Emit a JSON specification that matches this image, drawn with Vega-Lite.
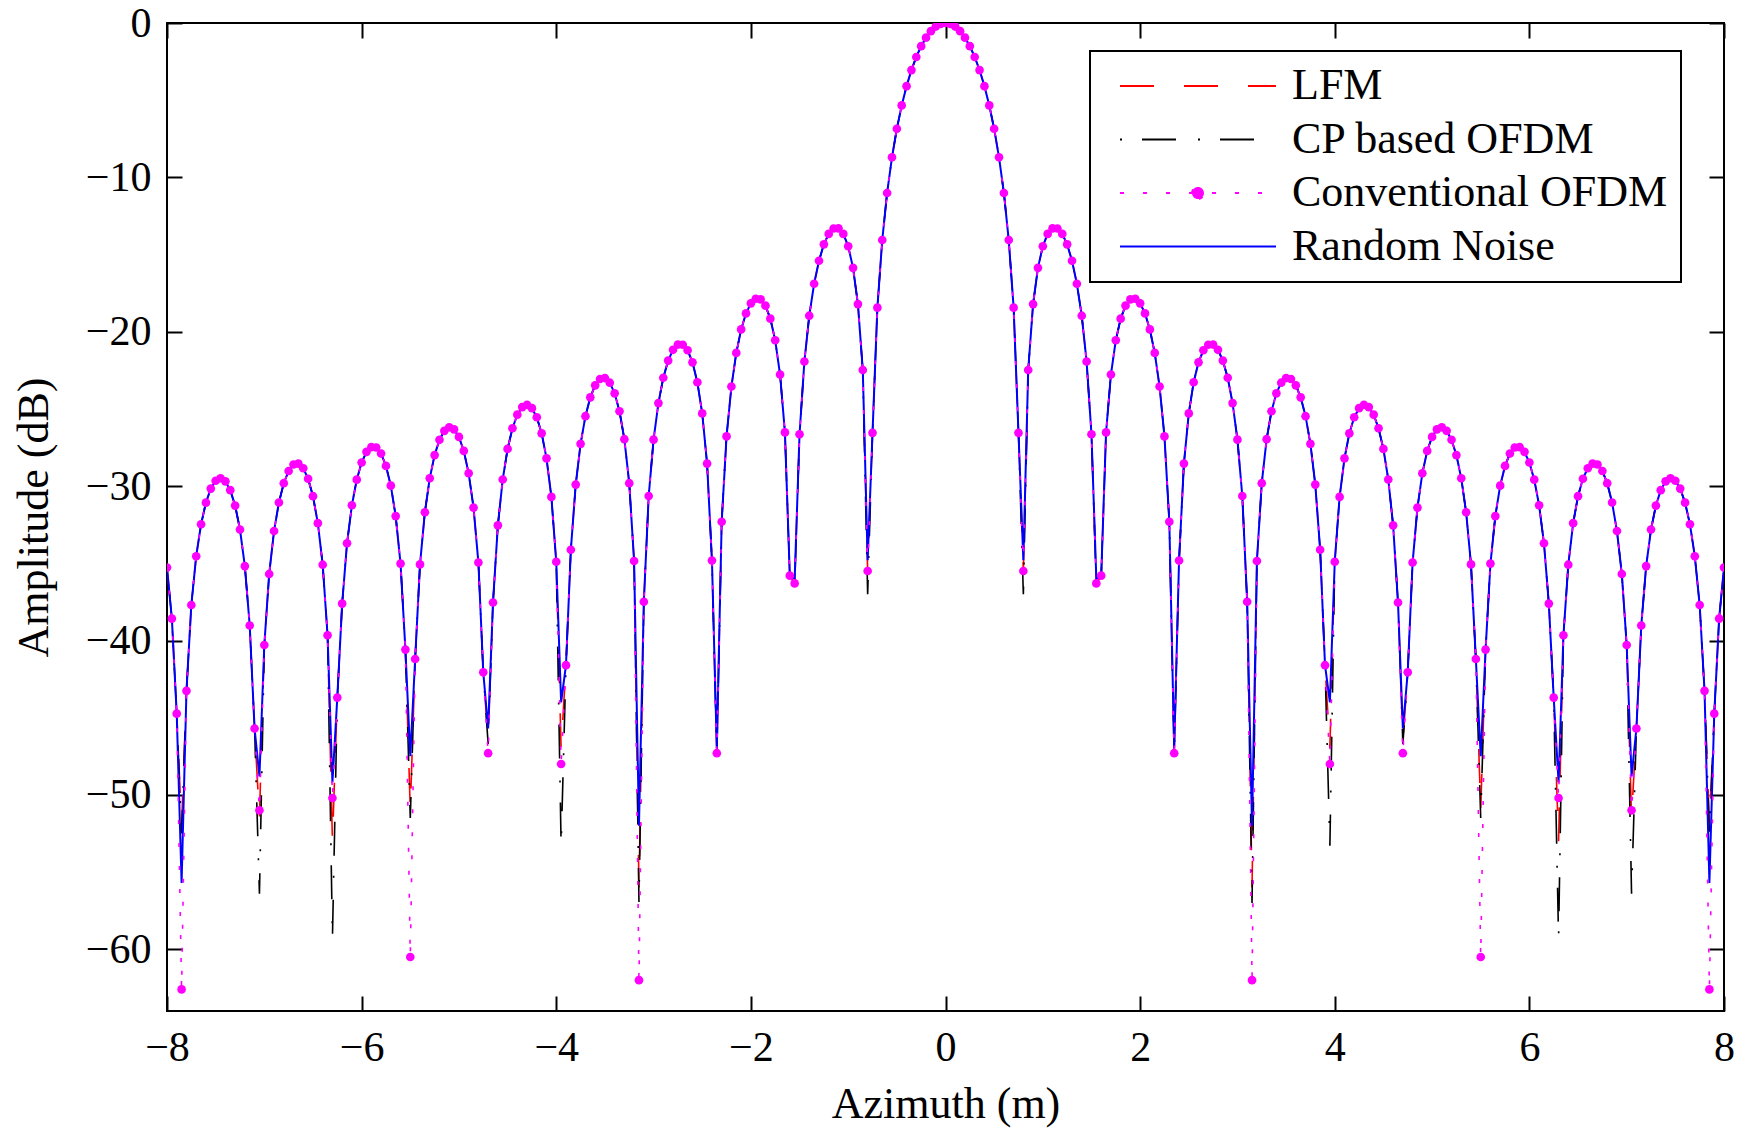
{
"$schema":"https://vega.github.io/schema/vega-lite/v6.json",
"width":1557,"height":988,
"autosize":{"type":"none"},
"padding":{"left":167,"top":23,"right":24,"bottom":119},
"background":"white",
"config":{
"view":{"stroke":"black","strokeWidth":2},
"font":"Liberation Serif",
"axis":{"grid":false,"domain":false,"tickColor":"black","tickWidth":2,"tickSize":-15,"labelFlush":false,"labelFont":"Liberation Serif","labelFontSize":42,"labelColor":"black","titleFont":"Liberation Serif","titleFontSize":44,"titleFontWeight":"normal","titleColor":"black"}
},
"data":{"values":[
{"x":-8,"l":-35.27,"c":-35.27,"v":-35.27,"n":-35.27},
{"x":-7.95,"l":-38.58,"c":-38.58,"v":-38.58,"n":-38.58},
{"x":-7.9,"l":-44.74,"c":-44.74,"v":-44.74,"n":-44.74},
{"x":-7.85,"l":-52,"c":-52.5,"v":-62.6,"n":-55.7},
{"x":-7.8,"l":-43.26,"c":-43.26,"v":-43.26,"n":-43.26},
{"x":-7.75,"l":-37.7,"c":-37.7,"v":-37.7,"n":-37.7},
{"x":-7.7,"l":-34.54,"c":-34.54,"v":-34.54,"n":-34.54},
{"x":-7.65,"l":-32.47,"c":-32.47,"v":-32.47,"n":-32.47},
{"x":-7.6,"l":-31.07,"c":-31.07,"v":-31.07,"n":-31.07},
{"x":-7.55,"l":-30.16,"c":-30.16,"v":-30.16,"n":-30.16},
{"x":-7.5,"l":-29.65,"c":-29.65,"v":-29.65,"n":-29.65},
{"x":-7.45,"l":-29.49,"c":-29.49,"v":-29.49,"n":-29.49},
{"x":-7.4,"l":-29.69,"c":-29.69,"v":-29.69,"n":-29.69},
{"x":-7.35,"l":-30.26,"c":-30.26,"v":-30.26,"n":-30.26},
{"x":-7.3,"l":-31.26,"c":-31.26,"v":-31.26,"n":-31.26},
{"x":-7.25,"l":-32.81,"c":-32.81,"v":-32.81,"n":-32.81},
{"x":-7.2,"l":-35.18,"c":-35.18,"v":-35.18,"n":-35.18},
{"x":-7.15,"l":-39.03,"c":-39.03,"v":-39.03,"n":-39.03},
{"x":-7.1,"l":-45.7,"c":-45.7,"v":-45.7,"n":-45.7},
{"x":-7.05,"l":-51.5,"c":-56.4,"v":-51,"n":-48.8},
{"x":-7,"l":-40.29,"c":-40.29,"v":-40.29,"n":-40.29},
{"x":-6.95,"l":-35.69,"c":-35.69,"v":-35.69,"n":-35.69},
{"x":-6.9,"l":-32.91,"c":-32.91,"v":-32.91,"n":-32.91},
{"x":-6.85,"l":-31.06,"c":-31.06,"v":-31.06,"n":-31.06},
{"x":-6.8,"l":-29.81,"c":-29.81,"v":-29.81,"n":-29.81},
{"x":-6.75,"l":-29.02,"c":-29.02,"v":-29.02,"n":-29.02},
{"x":-6.7,"l":-28.6,"c":-28.6,"v":-28.6,"n":-28.6},
{"x":-6.65,"l":-28.54,"c":-28.54,"v":-28.54,"n":-28.54},
{"x":-6.6,"l":-28.84,"c":-28.84,"v":-28.84,"n":-28.84},
{"x":-6.55,"l":-29.52,"c":-29.52,"v":-29.52,"n":-29.52},
{"x":-6.5,"l":-30.65,"c":-30.65,"v":-30.65,"n":-30.65},
{"x":-6.45,"l":-32.4,"c":-32.4,"v":-32.4,"n":-32.4},
{"x":-6.4,"l":-35.09,"c":-35.09,"v":-35.09,"n":-35.09},
{"x":-6.35,"l":-39.66,"c":-39.66,"v":-39.66,"n":-39.66},
{"x":-6.3,"l":-53,"c":-59.3,"v":-50.2,"n":-49.2},
{"x":-6.25,"l":-43.7,"c":-43.7,"v":-43.7,"n":-43.7},
{"x":-6.2,"l":-37.61,"c":-37.61,"v":-37.61,"n":-37.61},
{"x":-6.15,"l":-33.7,"c":-33.7,"v":-33.7,"n":-33.7},
{"x":-6.1,"l":-31.24,"c":-31.24,"v":-31.24,"n":-31.24},
{"x":-6.05,"l":-29.58,"c":-29.58,"v":-29.58,"n":-29.58},
{"x":-6,"l":-28.47,"c":-28.47,"v":-28.47,"n":-28.47},
{"x":-5.95,"l":-27.78,"c":-27.78,"v":-27.78,"n":-27.78},
{"x":-5.9,"l":-27.47,"c":-27.47,"v":-27.47,"n":-27.47},
{"x":-5.85,"l":-27.5,"c":-27.5,"v":-27.5,"n":-27.5},
{"x":-5.8,"l":-27.89,"c":-27.89,"v":-27.89,"n":-27.89},
{"x":-5.75,"l":-28.69,"c":-28.69,"v":-28.69,"n":-28.69},
{"x":-5.7,"l":-29.97,"c":-29.97,"v":-29.97,"n":-29.97},
{"x":-5.65,"l":-31.94,"c":-31.94,"v":-31.94,"n":-31.94},
{"x":-5.6,"l":-35.02,"c":-35.02,"v":-35.02,"n":-35.02},
{"x":-5.55,"l":-40.59,"c":-40.59,"v":-40.59,"n":-40.59},
{"x":-5.5,"l":-51,"c":-51.5,"v":-60.5,"n":-47.5},
{"x":-5.45,"l":-41.2,"c":-41.2,"v":-41.2,"n":-41.2},
{"x":-5.4,"l":-35.07,"c":-35.07,"v":-35.07,"n":-35.07},
{"x":-5.35,"l":-31.69,"c":-31.69,"v":-31.69,"n":-31.69},
{"x":-5.3,"l":-29.49,"c":-29.49,"v":-29.49,"n":-29.49},
{"x":-5.25,"l":-27.99,"c":-27.99,"v":-27.99,"n":-27.99},
{"x":-5.2,"l":-27,"c":-27,"v":-27,"n":-27},
{"x":-5.15,"l":-26.42,"c":-26.42,"v":-26.42,"n":-26.42},
{"x":-5.1,"l":-26.19,"c":-26.19,"v":-26.19,"n":-26.19},
{"x":-5.05,"l":-26.32,"c":-26.32,"v":-26.32,"n":-26.32},
{"x":-5,"l":-26.81,"c":-26.81,"v":-26.81,"n":-26.81},
{"x":-4.95,"l":-27.72,"c":-27.72,"v":-27.72,"n":-27.72},
{"x":-4.9,"l":-29.17,"c":-29.17,"v":-29.17,"n":-29.17},
{"x":-4.85,"l":-31.39,"c":-31.39,"v":-31.39,"n":-31.39},
{"x":-4.8,"l":-34.95,"c":-34.95,"v":-34.95,"n":-34.95},
{"x":-4.75,"l":-42.06,"c":-42.06,"v":-42.06,"n":-42.06},
{"x":-4.7,"l":-46.5,"c":-46.7,"v":-47.3,"n":-45.7},
{"x":-4.65,"l":-37.54,"c":-37.54,"v":-37.54,"n":-37.54},
{"x":-4.6,"l":-32.54,"c":-32.54,"v":-32.54,"n":-32.54},
{"x":-4.55,"l":-29.57,"c":-29.57,"v":-29.57,"n":-29.57},
{"x":-4.5,"l":-27.59,"c":-27.59,"v":-27.59,"n":-27.59},
{"x":-4.45,"l":-26.25,"c":-26.25,"v":-26.25,"n":-26.25},
{"x":-4.4,"l":-25.37,"c":-25.37,"v":-25.37,"n":-25.37},
{"x":-4.35,"l":-24.88,"c":-24.88,"v":-24.88,"n":-24.88},
{"x":-4.3,"l":-24.74,"c":-24.74,"v":-24.74,"n":-24.74},
{"x":-4.25,"l":-24.95,"c":-24.95,"v":-24.95,"n":-24.95},
{"x":-4.2,"l":-25.54,"c":-25.54,"v":-25.54,"n":-25.54},
{"x":-4.15,"l":-26.58,"c":-26.58,"v":-26.58,"n":-26.58},
{"x":-4.1,"l":-28.2,"c":-28.2,"v":-28.2,"n":-28.2},
{"x":-4.05,"l":-30.7,"c":-30.7,"v":-30.7,"n":-30.7},
{"x":-4,"l":-34.9,"c":-34.9,"v":-34.9,"n":-34.9},
{"x":-3.95,"l":-47,"c":-53.3,"v":-48,"n":-44},
{"x":-3.9,"l":-41.6,"c":-41.6,"v":-41.6,"n":-41.6},
{"x":-3.85,"l":-34.12,"c":-34.12,"v":-34.12,"n":-34.12},
{"x":-3.8,"l":-29.9,"c":-29.9,"v":-29.9,"n":-29.9},
{"x":-3.75,"l":-27.26,"c":-27.26,"v":-27.26,"n":-27.26},
{"x":-3.7,"l":-25.47,"c":-25.47,"v":-25.47,"n":-25.47},
{"x":-3.65,"l":-24.25,"c":-24.25,"v":-24.25,"n":-24.25},
{"x":-3.6,"l":-23.47,"c":-23.47,"v":-23.47,"n":-23.47},
{"x":-3.55,"l":-23.06,"c":-23.06,"v":-23.06,"n":-23.06},
{"x":-3.5,"l":-23,"c":-23,"v":-23,"n":-23},
{"x":-3.45,"l":-23.3,"c":-23.3,"v":-23.3,"n":-23.3},
{"x":-3.4,"l":-23.99,"c":-23.99,"v":-23.99,"n":-23.99},
{"x":-3.35,"l":-25.15,"c":-25.15,"v":-25.15,"n":-25.15},
{"x":-3.3,"l":-26.96,"c":-26.96,"v":-26.96,"n":-26.96},
{"x":-3.25,"l":-29.81,"c":-29.81,"v":-29.81,"n":-29.81},
{"x":-3.2,"l":-34.85,"c":-34.85,"v":-34.85,"n":-34.85},
{"x":-3.15,"l":-56,"c":-57,"v":-62,"n":-52},
{"x":-3.1,"l":-37.49,"c":-37.49,"v":-37.49,"n":-37.49},
{"x":-3.05,"l":-30.64,"c":-30.64,"v":-30.64,"n":-30.64},
{"x":-3,"l":-26.99,"c":-26.99,"v":-26.99,"n":-26.99},
{"x":-2.95,"l":-24.62,"c":-24.62,"v":-24.62,"n":-24.62},
{"x":-2.9,"l":-22.98,"c":-22.98,"v":-22.98,"n":-22.98},
{"x":-2.85,"l":-21.87,"c":-21.87,"v":-21.87,"n":-21.87},
{"x":-2.8,"l":-21.17,"c":-21.17,"v":-21.17,"n":-21.17},
{"x":-2.75,"l":-20.83,"c":-20.83,"v":-20.83,"n":-20.83},
{"x":-2.7,"l":-20.84,"c":-20.84,"v":-20.84,"n":-20.84},
{"x":-2.65,"l":-21.2,"c":-21.2,"v":-21.2,"n":-21.2},
{"x":-2.6,"l":-21.98,"c":-21.98,"v":-21.98,"n":-21.98},
{"x":-2.55,"l":-23.27,"c":-23.27,"v":-23.27,"n":-23.27},
{"x":-2.5,"l":-25.29,"c":-25.29,"v":-25.29,"n":-25.29},
{"x":-2.45,"l":-28.54,"c":-28.54,"v":-28.54,"n":-28.54},
{"x":-2.4,"l":-34.82,"c":-34.82,"v":-34.82,"n":-34.82},
{"x":-2.35,"l":-47.3,"c":-47.5,"v":-47.3,"n":-47},
{"x":-2.3,"l":-32.31,"c":-32.31,"v":-32.31,"n":-32.31},
{"x":-2.25,"l":-26.78,"c":-26.78,"v":-26.78,"n":-26.78},
{"x":-2.2,"l":-23.55,"c":-23.55,"v":-23.55,"n":-23.55},
{"x":-2.15,"l":-21.37,"c":-21.37,"v":-21.37,"n":-21.37},
{"x":-2.1,"l":-19.85,"c":-19.85,"v":-19.85,"n":-19.85},
{"x":-2.05,"l":-18.81,"c":-18.81,"v":-18.81,"n":-18.81},
{"x":-2,"l":-18.16,"c":-18.16,"v":-18.16,"n":-18.16},
{"x":-1.95,"l":-17.86,"c":-17.86,"v":-17.86,"n":-17.86},
{"x":-1.9,"l":-17.9,"c":-17.9,"v":-17.9,"n":-17.9},
{"x":-1.85,"l":-18.31,"c":-18.31,"v":-18.31,"n":-18.31},
{"x":-1.8,"l":-19.15,"c":-19.15,"v":-19.15,"n":-19.15},
{"x":-1.75,"l":-20.55,"c":-20.55,"v":-20.55,"n":-20.55},
{"x":-1.7,"l":-22.77,"c":-22.77,"v":-22.77,"n":-22.77},
{"x":-1.65,"l":-26.52,"c":-26.52,"v":-26.52,"n":-26.52},
{"x":-1.6,"l":-35.8,"c":-35.8,"v":-35.8,"n":-35.8},
{"x":-1.55,"l":-36.3,"c":-36.5,"v":-36.3,"n":-36},
{"x":-1.5,"l":-26.64,"c":-26.64,"v":-26.64,"n":-26.64},
{"x":-1.45,"l":-21.93,"c":-21.93,"v":-21.93,"n":-21.93},
{"x":-1.4,"l":-18.96,"c":-18.96,"v":-18.96,"n":-18.96},
{"x":-1.35,"l":-16.89,"c":-16.89,"v":-16.89,"n":-16.89},
{"x":-1.3,"l":-15.4,"c":-15.4,"v":-15.4,"n":-15.4},
{"x":-1.25,"l":-14.34,"c":-14.34,"v":-14.34,"n":-14.34},
{"x":-1.2,"l":-13.66,"c":-13.66,"v":-13.66,"n":-13.66},
{"x":-1.15,"l":-13.31,"c":-13.31,"v":-13.31,"n":-13.31},
{"x":-1.1,"l":-13.3,"c":-13.3,"v":-13.3,"n":-13.3},
{"x":-1.05,"l":-13.66,"c":-13.66,"v":-13.66,"n":-13.66},
{"x":-1,"l":-14.46,"c":-14.46,"v":-14.46,"n":-14.46},
{"x":-0.95,"l":-15.86,"c":-15.86,"v":-15.86,"n":-15.86},
{"x":-0.9,"l":-18.21,"c":-18.21,"v":-18.21,"n":-18.21},
{"x":-0.85,"l":-22.48,"c":-22.48,"v":-22.48,"n":-22.48},
{"x":-0.8,"l":-35.5,"c":-37,"v":-35.5,"n":-34.8},
{"x":-0.75,"l":-26.55,"c":-26.55,"v":-26.55,"n":-26.55},
{"x":-0.7,"l":-18.44,"c":-18.44,"v":-18.44,"n":-18.44},
{"x":-0.65,"l":-14.06,"c":-14.06,"v":-14.06,"n":-14.06},
{"x":-0.6,"l":-11.01,"c":-11.01,"v":-11.01,"n":-11.01},
{"x":-0.55,"l":-8.7,"c":-8.7,"v":-8.7,"n":-8.7},
{"x":-0.5,"l":-6.85,"c":-6.85,"v":-6.85,"n":-6.85},
{"x":-0.45,"l":-5.34,"c":-5.34,"v":-5.34,"n":-5.34},
{"x":-0.4,"l":-4.09,"c":-4.09,"v":-4.09,"n":-4.09},
{"x":-0.35,"l":-3.05,"c":-3.05,"v":-3.05,"n":-3.05},
{"x":-0.3,"l":-2.2,"c":-2.2,"v":-2.2,"n":-2.2},
{"x":-0.25,"l":-1.5,"c":-1.5,"v":-1.5,"n":-1.5},
{"x":-0.2,"l":-0.95,"c":-0.95,"v":-0.95,"n":-0.95},
{"x":-0.15,"l":-0.53,"c":-0.53,"v":-0.53,"n":-0.53},
{"x":-0.1,"l":-0.23,"c":-0.23,"v":-0.23,"n":-0.23},
{"x":-0.05,"l":-0.06,"c":-0.06,"v":-0.06,"n":-0.06},
{"x":0,"l":0,"c":0,"v":0,"n":0},
{"x":0.05,"l":-0.06,"c":-0.06,"v":-0.06,"n":-0.06},
{"x":0.1,"l":-0.23,"c":-0.23,"v":-0.23,"n":-0.23},
{"x":0.15,"l":-0.53,"c":-0.53,"v":-0.53,"n":-0.53},
{"x":0.2,"l":-0.95,"c":-0.95,"v":-0.95,"n":-0.95},
{"x":0.25,"l":-1.5,"c":-1.5,"v":-1.5,"n":-1.5},
{"x":0.3,"l":-2.2,"c":-2.2,"v":-2.2,"n":-2.2},
{"x":0.35,"l":-3.05,"c":-3.05,"v":-3.05,"n":-3.05},
{"x":0.4,"l":-4.09,"c":-4.09,"v":-4.09,"n":-4.09},
{"x":0.45,"l":-5.34,"c":-5.34,"v":-5.34,"n":-5.34},
{"x":0.5,"l":-6.85,"c":-6.85,"v":-6.85,"n":-6.85},
{"x":0.55,"l":-8.7,"c":-8.7,"v":-8.7,"n":-8.7},
{"x":0.6,"l":-11.01,"c":-11.01,"v":-11.01,"n":-11.01},
{"x":0.65,"l":-14.06,"c":-14.06,"v":-14.06,"n":-14.06},
{"x":0.7,"l":-18.44,"c":-18.44,"v":-18.44,"n":-18.44},
{"x":0.75,"l":-26.55,"c":-26.55,"v":-26.55,"n":-26.55},
{"x":0.8,"l":-35.5,"c":-37,"v":-35.5,"n":-34.8},
{"x":0.85,"l":-22.48,"c":-22.48,"v":-22.48,"n":-22.48},
{"x":0.9,"l":-18.21,"c":-18.21,"v":-18.21,"n":-18.21},
{"x":0.95,"l":-15.86,"c":-15.86,"v":-15.86,"n":-15.86},
{"x":1,"l":-14.46,"c":-14.46,"v":-14.46,"n":-14.46},
{"x":1.05,"l":-13.66,"c":-13.66,"v":-13.66,"n":-13.66},
{"x":1.1,"l":-13.3,"c":-13.3,"v":-13.3,"n":-13.3},
{"x":1.15,"l":-13.31,"c":-13.31,"v":-13.31,"n":-13.31},
{"x":1.2,"l":-13.66,"c":-13.66,"v":-13.66,"n":-13.66},
{"x":1.25,"l":-14.34,"c":-14.34,"v":-14.34,"n":-14.34},
{"x":1.3,"l":-15.4,"c":-15.4,"v":-15.4,"n":-15.4},
{"x":1.35,"l":-16.89,"c":-16.89,"v":-16.89,"n":-16.89},
{"x":1.4,"l":-18.96,"c":-18.96,"v":-18.96,"n":-18.96},
{"x":1.45,"l":-21.93,"c":-21.93,"v":-21.93,"n":-21.93},
{"x":1.5,"l":-26.64,"c":-26.64,"v":-26.64,"n":-26.64},
{"x":1.55,"l":-36.3,"c":-36.5,"v":-36.3,"n":-36},
{"x":1.6,"l":-35.8,"c":-35.8,"v":-35.8,"n":-35.8},
{"x":1.65,"l":-26.52,"c":-26.52,"v":-26.52,"n":-26.52},
{"x":1.7,"l":-22.77,"c":-22.77,"v":-22.77,"n":-22.77},
{"x":1.75,"l":-20.55,"c":-20.55,"v":-20.55,"n":-20.55},
{"x":1.8,"l":-19.15,"c":-19.15,"v":-19.15,"n":-19.15},
{"x":1.85,"l":-18.31,"c":-18.31,"v":-18.31,"n":-18.31},
{"x":1.9,"l":-17.9,"c":-17.9,"v":-17.9,"n":-17.9},
{"x":1.95,"l":-17.86,"c":-17.86,"v":-17.86,"n":-17.86},
{"x":2,"l":-18.16,"c":-18.16,"v":-18.16,"n":-18.16},
{"x":2.05,"l":-18.81,"c":-18.81,"v":-18.81,"n":-18.81},
{"x":2.1,"l":-19.85,"c":-19.85,"v":-19.85,"n":-19.85},
{"x":2.15,"l":-21.37,"c":-21.37,"v":-21.37,"n":-21.37},
{"x":2.2,"l":-23.55,"c":-23.55,"v":-23.55,"n":-23.55},
{"x":2.25,"l":-26.78,"c":-26.78,"v":-26.78,"n":-26.78},
{"x":2.3,"l":-32.31,"c":-32.31,"v":-32.31,"n":-32.31},
{"x":2.35,"l":-47.3,"c":-47.5,"v":-47.3,"n":-47},
{"x":2.4,"l":-34.82,"c":-34.82,"v":-34.82,"n":-34.82},
{"x":2.45,"l":-28.54,"c":-28.54,"v":-28.54,"n":-28.54},
{"x":2.5,"l":-25.29,"c":-25.29,"v":-25.29,"n":-25.29},
{"x":2.55,"l":-23.27,"c":-23.27,"v":-23.27,"n":-23.27},
{"x":2.6,"l":-21.98,"c":-21.98,"v":-21.98,"n":-21.98},
{"x":2.65,"l":-21.2,"c":-21.2,"v":-21.2,"n":-21.2},
{"x":2.7,"l":-20.84,"c":-20.84,"v":-20.84,"n":-20.84},
{"x":2.75,"l":-20.83,"c":-20.83,"v":-20.83,"n":-20.83},
{"x":2.8,"l":-21.17,"c":-21.17,"v":-21.17,"n":-21.17},
{"x":2.85,"l":-21.87,"c":-21.87,"v":-21.87,"n":-21.87},
{"x":2.9,"l":-22.98,"c":-22.98,"v":-22.98,"n":-22.98},
{"x":2.95,"l":-24.62,"c":-24.62,"v":-24.62,"n":-24.62},
{"x":3,"l":-26.99,"c":-26.99,"v":-26.99,"n":-26.99},
{"x":3.05,"l":-30.64,"c":-30.64,"v":-30.64,"n":-30.64},
{"x":3.1,"l":-37.49,"c":-37.49,"v":-37.49,"n":-37.49},
{"x":3.15,"l":-56,"c":-57,"v":-62,"n":-52},
{"x":3.2,"l":-34.85,"c":-34.85,"v":-34.85,"n":-34.85},
{"x":3.25,"l":-29.81,"c":-29.81,"v":-29.81,"n":-29.81},
{"x":3.3,"l":-26.96,"c":-26.96,"v":-26.96,"n":-26.96},
{"x":3.35,"l":-25.15,"c":-25.15,"v":-25.15,"n":-25.15},
{"x":3.4,"l":-23.99,"c":-23.99,"v":-23.99,"n":-23.99},
{"x":3.45,"l":-23.3,"c":-23.3,"v":-23.3,"n":-23.3},
{"x":3.5,"l":-23,"c":-23,"v":-23,"n":-23},
{"x":3.55,"l":-23.06,"c":-23.06,"v":-23.06,"n":-23.06},
{"x":3.6,"l":-23.47,"c":-23.47,"v":-23.47,"n":-23.47},
{"x":3.65,"l":-24.25,"c":-24.25,"v":-24.25,"n":-24.25},
{"x":3.7,"l":-25.47,"c":-25.47,"v":-25.47,"n":-25.47},
{"x":3.75,"l":-27.26,"c":-27.26,"v":-27.26,"n":-27.26},
{"x":3.8,"l":-29.9,"c":-29.9,"v":-29.9,"n":-29.9},
{"x":3.85,"l":-34.12,"c":-34.12,"v":-34.12,"n":-34.12},
{"x":3.9,"l":-41.6,"c":-41.6,"v":-41.6,"n":-41.6},
{"x":3.95,"l":-47,"c":-53.3,"v":-48,"n":-44},
{"x":4,"l":-34.9,"c":-34.9,"v":-34.9,"n":-34.9},
{"x":4.05,"l":-30.7,"c":-30.7,"v":-30.7,"n":-30.7},
{"x":4.1,"l":-28.2,"c":-28.2,"v":-28.2,"n":-28.2},
{"x":4.15,"l":-26.58,"c":-26.58,"v":-26.58,"n":-26.58},
{"x":4.2,"l":-25.54,"c":-25.54,"v":-25.54,"n":-25.54},
{"x":4.25,"l":-24.95,"c":-24.95,"v":-24.95,"n":-24.95},
{"x":4.3,"l":-24.74,"c":-24.74,"v":-24.74,"n":-24.74},
{"x":4.35,"l":-24.88,"c":-24.88,"v":-24.88,"n":-24.88},
{"x":4.4,"l":-25.37,"c":-25.37,"v":-25.37,"n":-25.37},
{"x":4.45,"l":-26.25,"c":-26.25,"v":-26.25,"n":-26.25},
{"x":4.5,"l":-27.59,"c":-27.59,"v":-27.59,"n":-27.59},
{"x":4.55,"l":-29.57,"c":-29.57,"v":-29.57,"n":-29.57},
{"x":4.6,"l":-32.54,"c":-32.54,"v":-32.54,"n":-32.54},
{"x":4.65,"l":-37.54,"c":-37.54,"v":-37.54,"n":-37.54},
{"x":4.7,"l":-46.5,"c":-46.7,"v":-47.3,"n":-45.7},
{"x":4.75,"l":-42.06,"c":-42.06,"v":-42.06,"n":-42.06},
{"x":4.8,"l":-34.95,"c":-34.95,"v":-34.95,"n":-34.95},
{"x":4.85,"l":-31.39,"c":-31.39,"v":-31.39,"n":-31.39},
{"x":4.9,"l":-29.17,"c":-29.17,"v":-29.17,"n":-29.17},
{"x":4.95,"l":-27.72,"c":-27.72,"v":-27.72,"n":-27.72},
{"x":5,"l":-26.81,"c":-26.81,"v":-26.81,"n":-26.81},
{"x":5.05,"l":-26.32,"c":-26.32,"v":-26.32,"n":-26.32},
{"x":5.1,"l":-26.19,"c":-26.19,"v":-26.19,"n":-26.19},
{"x":5.15,"l":-26.42,"c":-26.42,"v":-26.42,"n":-26.42},
{"x":5.2,"l":-27,"c":-27,"v":-27,"n":-27},
{"x":5.25,"l":-27.99,"c":-27.99,"v":-27.99,"n":-27.99},
{"x":5.3,"l":-29.49,"c":-29.49,"v":-29.49,"n":-29.49},
{"x":5.35,"l":-31.69,"c":-31.69,"v":-31.69,"n":-31.69},
{"x":5.4,"l":-35.07,"c":-35.07,"v":-35.07,"n":-35.07},
{"x":5.45,"l":-41.2,"c":-41.2,"v":-41.2,"n":-41.2},
{"x":5.5,"l":-51,"c":-51.5,"v":-60.5,"n":-47.5},
{"x":5.55,"l":-40.59,"c":-40.59,"v":-40.59,"n":-40.59},
{"x":5.6,"l":-35.02,"c":-35.02,"v":-35.02,"n":-35.02},
{"x":5.65,"l":-31.94,"c":-31.94,"v":-31.94,"n":-31.94},
{"x":5.7,"l":-29.97,"c":-29.97,"v":-29.97,"n":-29.97},
{"x":5.75,"l":-28.69,"c":-28.69,"v":-28.69,"n":-28.69},
{"x":5.8,"l":-27.89,"c":-27.89,"v":-27.89,"n":-27.89},
{"x":5.85,"l":-27.5,"c":-27.5,"v":-27.5,"n":-27.5},
{"x":5.9,"l":-27.47,"c":-27.47,"v":-27.47,"n":-27.47},
{"x":5.95,"l":-27.78,"c":-27.78,"v":-27.78,"n":-27.78},
{"x":6,"l":-28.47,"c":-28.47,"v":-28.47,"n":-28.47},
{"x":6.05,"l":-29.58,"c":-29.58,"v":-29.58,"n":-29.58},
{"x":6.1,"l":-31.24,"c":-31.24,"v":-31.24,"n":-31.24},
{"x":6.15,"l":-33.7,"c":-33.7,"v":-33.7,"n":-33.7},
{"x":6.2,"l":-37.61,"c":-37.61,"v":-37.61,"n":-37.61},
{"x":6.25,"l":-43.7,"c":-43.7,"v":-43.7,"n":-43.7},
{"x":6.3,"l":-53,"c":-59.3,"v":-50.2,"n":-49.2},
{"x":6.35,"l":-39.66,"c":-39.66,"v":-39.66,"n":-39.66},
{"x":6.4,"l":-35.09,"c":-35.09,"v":-35.09,"n":-35.09},
{"x":6.45,"l":-32.4,"c":-32.4,"v":-32.4,"n":-32.4},
{"x":6.5,"l":-30.65,"c":-30.65,"v":-30.65,"n":-30.65},
{"x":6.55,"l":-29.52,"c":-29.52,"v":-29.52,"n":-29.52},
{"x":6.6,"l":-28.84,"c":-28.84,"v":-28.84,"n":-28.84},
{"x":6.65,"l":-28.54,"c":-28.54,"v":-28.54,"n":-28.54},
{"x":6.7,"l":-28.6,"c":-28.6,"v":-28.6,"n":-28.6},
{"x":6.75,"l":-29.02,"c":-29.02,"v":-29.02,"n":-29.02},
{"x":6.8,"l":-29.81,"c":-29.81,"v":-29.81,"n":-29.81},
{"x":6.85,"l":-31.06,"c":-31.06,"v":-31.06,"n":-31.06},
{"x":6.9,"l":-32.91,"c":-32.91,"v":-32.91,"n":-32.91},
{"x":6.95,"l":-35.69,"c":-35.69,"v":-35.69,"n":-35.69},
{"x":7,"l":-40.29,"c":-40.29,"v":-40.29,"n":-40.29},
{"x":7.05,"l":-51.5,"c":-56.4,"v":-51,"n":-48.8},
{"x":7.1,"l":-45.7,"c":-45.7,"v":-45.7,"n":-45.7},
{"x":7.15,"l":-39.03,"c":-39.03,"v":-39.03,"n":-39.03},
{"x":7.2,"l":-35.18,"c":-35.18,"v":-35.18,"n":-35.18},
{"x":7.25,"l":-32.81,"c":-32.81,"v":-32.81,"n":-32.81},
{"x":7.3,"l":-31.26,"c":-31.26,"v":-31.26,"n":-31.26},
{"x":7.35,"l":-30.26,"c":-30.26,"v":-30.26,"n":-30.26},
{"x":7.4,"l":-29.69,"c":-29.69,"v":-29.69,"n":-29.69},
{"x":7.45,"l":-29.49,"c":-29.49,"v":-29.49,"n":-29.49},
{"x":7.5,"l":-29.65,"c":-29.65,"v":-29.65,"n":-29.65},
{"x":7.55,"l":-30.16,"c":-30.16,"v":-30.16,"n":-30.16},
{"x":7.6,"l":-31.07,"c":-31.07,"v":-31.07,"n":-31.07},
{"x":7.65,"l":-32.47,"c":-32.47,"v":-32.47,"n":-32.47},
{"x":7.7,"l":-34.54,"c":-34.54,"v":-34.54,"n":-34.54},
{"x":7.75,"l":-37.7,"c":-37.7,"v":-37.7,"n":-37.7},
{"x":7.8,"l":-43.26,"c":-43.26,"v":-43.26,"n":-43.26},
{"x":7.85,"l":-52,"c":-52.5,"v":-62.6,"n":-55.7},
{"x":7.9,"l":-44.74,"c":-44.74,"v":-44.74,"n":-44.74},
{"x":7.95,"l":-38.58,"c":-38.58,"v":-38.58,"n":-38.58},
{"x":8,"l":-35.27,"c":-35.27,"v":-35.27,"n":-35.27}
]},
"layer":[
{"layer":[
{"mark":{"type":"line","strokeWidth":1.6,"strokeDash":[34,30],"clip":true},
 "encoding":{
  "x":{"field":"x","type":"quantitative","scale":{"domain":[-8,8],"nice":false,"zero":false},"axis":{"values":[-8,-6,-4,-2,0,2,4,6,8],"format":"d","title":"Azimuth (m)","labelPadding":31,"titlePadding":14}},
  "y":{"field":"l","type":"quantitative","scale":{"domain":[-64,0],"nice":false,"zero":false},"axis":{"values":[-60,-50,-40,-30,-20,-10,0],"format":"d","title":"Amplitude (dB)","labelPadding":31,"titlePadding":29}},
  "color":{"datum":"LFM","scale":{"domain":["LFM","CP based OFDM","Conventional OFDM","Random Noise"],"range":["#FF0000","#000000","#FF00FF","#0000FF"]},
   "legend":{"title":null,"orient":"none","legendX":923,"legendY":28,"padding":13,"fillColor":"white","strokeColor":"black","labelFont":"Liberation Serif","labelFontSize":44,"labelColor":"black","labelLimit":0,"symbolSize":100,"symbolOffset":73,"labelOffset":72,"rowPadding":9.5,
    "encode":{"legend":{"update":{"stroke":{"value":"black"},"strokeWidth":{"value":2},"fill":{"value":"white"}}},
     "symbols":{"update":{
      "shape":{"signal":"datum.value === 'Conventional OFDM' ? 'M-15.6,0H15.6M-1.2,0A1.2,1.2 0 1,1 1.2,0A1.2,1.2 0 1,1 -1.2,0' : 'M-15.6,0H15.6'"},
      "strokeDash":{"signal":"datum.value === 'LFM' ? [34,30] : datum.value === 'CP based OFDM' ? [2,20,34,22] : datum.value === 'Conventional OFDM' ? [4,19] : [1,0]"},
      "stroke":{"signal":"datum.value === 'LFM' ? '#FF0000' : datum.value === 'CP based OFDM' ? '#000000' : datum.value === 'Conventional OFDM' ? '#FF00FF' : '#0000FF'"},
      "fill":{"signal":"datum.value === 'Conventional OFDM' ? '#FF00FF' : 'transparent'"},
      "strokeWidth":{"value":2},"opacity":{"value":1},"fillOpacity":{"value":1},"strokeOpacity":{"value":1}}}}}}
 }},
{"mark":{"type":"line","strokeWidth":1.6,"strokeDash":[2,20,34,22],"clip":true},
 "encoding":{"x":{"field":"x","type":"quantitative"},"y":{"field":"c","type":"quantitative","title":"Amplitude (dB)"},
  "color":{"datum":"CP based OFDM","scale":{"domain":["LFM","CP based OFDM","Conventional OFDM","Random Noise"],"range":["#FF0000","#000000","#FF00FF","#0000FF"]}}}},
{"mark":{"type":"line","strokeWidth":2,"clip":true},
 "encoding":{"x":{"field":"x","type":"quantitative"},"y":{"field":"n","type":"quantitative","title":"Amplitude (dB)"},
  "color":{"datum":"Random Noise","scale":{"domain":["LFM","CP based OFDM","Conventional OFDM","Random Noise"],"range":["#FF0000","#000000","#FF00FF","#0000FF"]}}}},
{"mark":{"type":"line","strokeWidth":1.6,"strokeDash":[4,19],"clip":true},
 "encoding":{"x":{"field":"x","type":"quantitative"},"y":{"field":"v","type":"quantitative","title":"Amplitude (dB)"},
  "color":{"datum":"Conventional OFDM","scale":{"domain":["LFM","CP based OFDM","Conventional OFDM","Random Noise"],"range":["#FF0000","#000000","#FF00FF","#0000FF"]}}}},
{"mark":{"type":"point","filled":true,"size":75,"opacity":1,"clip":true},
 "encoding":{"x":{"field":"x","type":"quantitative"},"y":{"field":"v","type":"quantitative","title":"Amplitude (dB)"},
  "color":{"datum":"Conventional OFDM","scale":{"domain":["LFM","CP based OFDM","Conventional OFDM","Random Noise"],"range":["#FF0000","#000000","#FF00FF","#0000FF"]}}}}
]},
{"mark":{"type":"point","opacity":0},
 "encoding":{
  "x":{"field":"x","type":"quantitative","axis":{"orient":"top","labels":false,"title":null,"values":[-8,-6,-4,-2,0,2,4,6,8]}},
  "y":{"field":"n","type":"quantitative","axis":{"orient":"right","labels":false,"title":null,"values":[-60,-50,-40,-30,-20,-10,0]}}}}
],
"resolve":{"axis":{"x":"independent","y":"independent"}}
}
